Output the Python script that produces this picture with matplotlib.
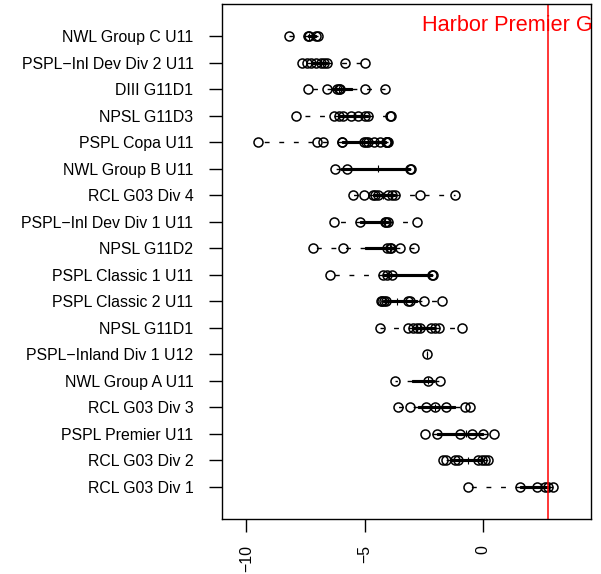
import matplotlib
matplotlib.use('Agg')
import matplotlib.pyplot as plt
from matplotlib import cbook
import numpy as np

plt.rcParams['font.family'] = ['Liberation Sans', 'DejaVu Sans']

# categories from bottom (position 1) to top (position 18)
categories = [
    "RCL G03 Div 1", "RCL G03 Div 2", "PSPL Premier U11", "RCL G03 Div 3",
    "NWL Group A U11", "PSPL\u2212Inland Div 1 U12", "NPSL G11D1",
    "PSPL Classic 2 U11", "PSPL Classic 1 U11", "NPSL G11D2",
    "PSPL\u2212Inl Dev Div 1 U11", "RCL G03 Div 4", "NWL Group B U11",
    "PSPL Copa U11", "NPSL G11D3", "DIII G11D1",
    "PSPL\u2212Inl Dev Div 2 U11", "NWL Group C U11",
]

rcl_g03_div_1 = [-0.62, 1.56, 2.27, 2.62, 2.76, 2.97]
rcl_g03_div_2 = [-1.7, -1.55, -1.2, -1.05, -0.2, -0.05, 0.08, 0.22]
pspl_premier_u11 = [-2.45, -1.95, -0.97, -0.48, 0.0, 0.45]
rcl_g03_div_3 = [-3.6, -3.1, -2.4, -2.05, -1.55, -0.78, -0.55]
nwl_group_a_u11 = [-3.72, -2.31, -1.82]
pspl_inland_div_1_u12 = [-2.38]
npsl_g11d1 = [-4.35, -3.15, -2.95, -2.8, -2.65, -2.2, -2.05, -1.85, -0.9]
pspl_classic_2_u11 = [-4.3, -4.25, -4.2, -4.1, -3.15, -3.1, -2.5, -1.75]
pspl_classic_1_u11 = [-6.46, -4.21, -4.07, -3.86, -2.17, -2.1]
npsl_g11d2 = [-7.2, -5.9, -4.05, -3.95, -3.9, -3.5, -2.9]
pspl_inl_dev_div_1_u11 = [-6.3, -5.2, -4.15, -4.1, -4.0, -2.8]
rcl_g03_div_4 = [-5.5, -5.05, -4.65, -4.55, -4.45, -4.0, -3.85, -3.7, -2.65, -1.2]
nwl_group_b_u11 = [-6.25, -5.75, -3.1, -3.05]
pspl_copa_u11 = [-9.5, -7.0, -6.75, -5.97, -5.95, -5.05, -4.95, -4.85, -4.6,
                 -4.35, -4.1, -4.07, -4.05, -4.05, -4.03]
npsl_g11d3 = [-7.9, -6.3, -6.1, -5.9, -5.6, -5.3, -5.0, -4.85, -3.95, -3.9]
diii_g11d1 = [-7.38, -6.6, -6.15, -6.1, -6.05, -5.0, -4.15]
pspl_inl_dev_div_2_u11 = [-7.65, -7.45, -7.25, -7.05, -6.85, -6.7, -6.6, -5.85, -5.0]
nwl_group_c_u11 = [-8.2, -7.4, -7.35, -7.05, -6.98]

highlight_value = 2.76
highlight_label = "Harbor Premier Gold U11"
x_ticks = [-10, -5, 0]

data = [rcl_g03_div_1, rcl_g03_div_2, pspl_premier_u11, rcl_g03_div_3,
        nwl_group_a_u11, pspl_inland_div_1_u12, npsl_g11d1, pspl_classic_2_u11,
        pspl_classic_1_u11, npsl_g11d2, pspl_inl_dev_div_1_u11, rcl_g03_div_4,
        nwl_group_b_u11, pspl_copa_u11, npsl_g11d3, diii_g11d1,
        pspl_inl_dev_div_2_u11, nwl_group_c_u11]
pos = np.arange(1, len(categories) + 1)


def tukey_hinges(values):
    x = np.sort(np.asarray(values, dtype=float))
    n = len(x)
    n4 = np.floor((n + 3) / 2) / 2
    d = np.array([n4, n + 1 - n4]) - 1
    return 0.5 * (x[np.floor(d).astype(int)] + x[np.ceil(d).astype(int)])


stats = cbook.boxplot_stats(data, whis=(0, 100))
for st, d in zip(stats, data):
    q1, q3 = tukey_hinges(d)
    st['q1'], st['q3'] = q1, q3
    st['med'] = np.median(d)
    st['whislo'], st['whishi'] = np.min(d), np.max(d)

fig = plt.figure(figsize=(6.01, 5.74), dpi=100)
ax = fig.add_axes([0.3694, 0.0958, 0.9829 - 0.3694, 0.993 - 0.0958])

bxp_kw = dict(positions=pos, widths=0.07, showfliers=False, showcaps=False,
              patch_artist=True,
              boxprops=dict(facecolor='black', edgecolor='black', linewidth=0.8),
              whiskerprops=dict(linestyle=(0, (3.5, 7)), linewidth=1.0, color='black'),
              medianprops=dict(color='black', linewidth=0.8))
try:
    ax.bxp(stats, orientation='horizontal', **bxp_kw)
except TypeError:
    ax.bxp(stats, vert=False, **bxp_kw)

meds = [np.median(d) for d in data]
ax.vlines(meds, pos - 0.13, pos + 0.13, color='black', lw=0.8)

for d, p in zip(data, pos):
    ax.plot(d, np.full(len(d), p), marker='o', ms=6.5, mfc='none', mec='black',
            mew=1.1, ls='none')

ax.axvline(highlight_value, color='red', lw=1.1)
ax.text(-2.59, 18.2, highlight_label, color='red', fontsize=15.6, ha='left',
        va='baseline', clip_on=True)

ax.set_xlim(-11.03, 4.55)
ax.set_ylim(-0.22, 19.22)
ax.set_yticks(pos)
ax.set_yticklabels(categories)
ax.set_xticks(x_ticks)
ax.set_xticklabels([str(t).replace('-', '\u2212') for t in x_ticks], rotation=90)
for s in ax.spines.values():
    s.set_linewidth(1.0)
ax.tick_params(axis='y', length=9.6, width=1.0, labelsize=11.4, pad=11)
ax.tick_params(axis='x', length=9.6, width=1.0, labelsize=11.4, pad=8.9)

fig.savefig('out.png', dpi=100)
